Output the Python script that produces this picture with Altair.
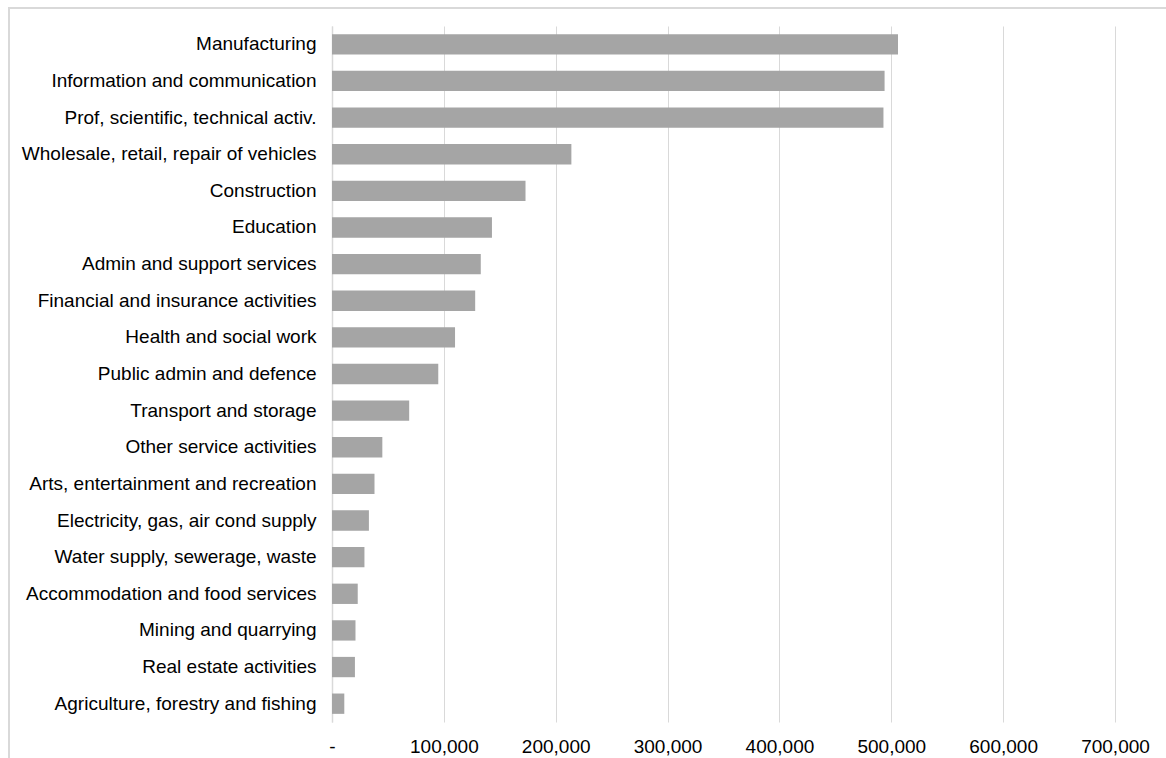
import altair as alt
import pandas as pd

categories = [
    "Manufacturing",
    "Information and communication",
    "Prof, scientific, technical activ.",
    "Wholesale, retail, repair of vehicles",
    "Construction",
    "Education",
    "Admin and support services",
    "Financial and insurance activities",
    "Health and social work",
    "Public admin and defence",
    "Transport and storage",
    "Other service activities",
    "Arts, entertainment and recreation",
    "Electricity, gas, air cond supply",
    "Water supply, sewerage, waste",
    "Accommodation and food services",
    "Mining and quarrying",
    "Real estate activities",
    "Agriculture, forestry and fishing",
]
values = [506000, 494000, 493000, 214000, 173000, 143000, 133000, 128000,
          110000, 95000, 69000, 45000, 38000, 33000, 29000, 23000, 21000, 20500, 11000]
x_ticks = [0, 100000, 200000, 300000, 400000, 500000, 600000, 700000]

df = pd.DataFrame({"category": categories, "value": values})

FONT = "Liberation Sans"

bars = alt.Chart(df).mark_bar(color="#a5a5a5").encode(
    x=alt.X(
        "value:Q",
        scale=alt.Scale(domain=[0, 700000], nice=False),
        axis=alt.Axis(
            values=x_ticks,
            title=None,
            labelExpr="datum.value == 0 ? '-' : format(datum.value, ',')",
            grid=True,
            gridColor="#d9d9d9",
            gridWidth=1,
            domain=False,
            ticks=False,
            labelPadding=15,
            labelFontSize=19,
            labelFont=FONT,
            labelColor="#000000",
            labelFlush=False,
            labelOverlap=False,
            labelBound=False,
        ),
    ),
    y=alt.Y(
        "category:N",
        sort=categories,
        scale=alt.Scale(paddingInner=0.445, paddingOuter=0.2225),
        axis=alt.Axis(
            title=None,
            domain=True,
            domainColor="#d9d9d9",
            domainWidth=1.5,
            ticks=False,
            labelPadding=16,
            labelFontSize=19,
            labelFont=FONT,
            labelColor="#000000",
            labelLimit=400,
        ),
    ),
)

border = alt.Chart(df).mark_rect(
    fill=None, stroke="#d9d9d9", strokeWidth=1.5
).encode(
    x=alt.value(-323),
    x2=alt.value(900),
    y=alt.value(-18),
    y2=alt.value(800),
)

chart = alt.layer(border, bars).properties(
    width=783,
    height=696,
    autosize=alt.AutoSizeParams(type="none"),
    padding={"left": 332, "top": 26, "right": 51, "bottom": 36},
    background="#ffffff",
).configure_view(stroke=None)

chart.save("out.html", embed_options={"renderer": "svg", "actions": False})
